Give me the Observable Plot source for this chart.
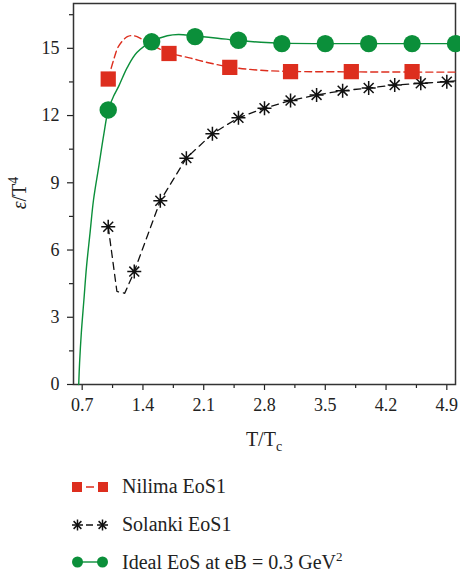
<!DOCTYPE html>
<html><head><meta charset="utf-8">
<script src="https://cdn.jsdelivr.net/npm/d3@7"></script>
<script src="https://cdn.jsdelivr.net/npm/@observablehq/plot@0.6"></script>
<style>
body{margin:0;background:#fff;font-family:"Liberation Serif",serif;color:#222;}
#legend{margin-left:71px;padding-top:13px;}
.row{display:flex;align-items:center;height:37.8px;font-size:20px;}
.row svg{margin-right:13px;}
</style></head><body><div id="chart"></div><div id="legend"></div>
<script>
// ---- data ----
const xMajor = [0.7, 1.4, 2.1, 2.8, 3.5, 4.2, 4.9];
const xMinor = [1.05, 1.75, 2.45, 3.15, 3.85, 4.55];
const yMajor = [0, 3, 6, 9, 12, 15];
const yMinor = [1.5, 4.5, 7.5, 10.5, 13.5, 16.5];

// Ideal EoS at eB = 0.3 GeV^2 (markers)
const idealT = [1.0, 1.5, 2.0, 2.5, 3.0, 3.5, 4.0, 4.5, 5.0];
const idealE = [12.25, 15.29, 15.52, 15.36, 15.21, 15.21, 15.21, 15.21, 15.21];
// Ideal EoS curve
const idealCurveT = [0.66, 0.67, 0.69, 0.72, 0.75, 0.79, 0.83, 0.89, 0.95, 1.0, 1.06, 1.12, 1.22, 1.33, 1.5, 1.68, 1.81, 2.0, 2.26, 2.5, 2.76, 3.0, 3.5, 4.0, 5.0];
const idealCurveE = [0, 0.96, 2.3, 3.78, 5.26, 6.74, 8.22, 9.7, 11.18, 12.25, 12.85, 13.3, 14.15, 14.81, 15.3, 15.56, 15.62, 15.55, 15.45, 15.35, 15.27, 15.23, 15.21, 15.21, 15.21];

// Nilima EoS1 (markers)
const nilimaT = [1.0, 1.7, 2.4, 3.1, 3.8, 4.5];
const nilimaE = [13.63, 14.77, 14.15, 13.96, 13.96, 13.96];
// Nilima EoS1 curve
const nilimaCurveT = [1.0, 1.065, 1.12, 1.22, 1.3, 1.4, 1.55, 1.7, 1.95, 2.14, 2.4, 2.72, 3.1, 3.8, 4.5, 5.0];
const nilimaCurveE = [13.63, 14.52, 15.1, 15.52, 15.56, 15.38, 15.05, 14.8, 14.56, 14.37, 14.17, 14.03, 13.97, 13.95, 13.94, 13.94];

// Solanki EoS1 (markers)
const solankiT = [1.0, 1.3, 1.6, 1.9, 2.2, 2.5, 2.8, 3.1, 3.4, 3.7, 4.0, 4.3, 4.6, 4.9];
const solankiE = [7.04, 5.04, 8.2, 10.1, 11.19, 11.9, 12.33, 12.67, 12.92, 13.11, 13.23, 13.36, 13.44, 13.51];
// Solanki EoS1 curve
const solankiCurveT = [1.0, 1.1, 1.19, 1.3, 1.6, 1.9, 2.2, 2.5, 2.8, 3.1, 3.4, 3.7, 4.0, 4.3, 4.6, 4.9, 5.0];
const solankiCurveE = [7.04, 4.15, 4.07, 5.04, 8.2, 10.1, 11.19, 11.9, 12.33, 12.67, 12.92, 13.11, 13.23, 13.36, 13.44, 13.51, 13.55];

const RED = "#dd2e1e", GREEN = "#0b8f3a", BLACK = "#111";
const FONT = "'Liberation Serif', serif";

const zip = (xs, ys) => xs.map((x, i) => ({x, y: ys[i]}));

const asterisk8 = {
  draw(ctx, size) {
    const r = Math.sqrt(size / Math.PI);
    for (let i = 0; i < 4; i++) {
      const a = i * Math.PI / 4;
      const dx = r * Math.cos(a), dy = r * Math.sin(a);
      ctx.moveTo(-dx, -dy); ctx.lineTo(dx, dy);
    }
  }
};

const chart = Plot.plot({
  width: 460, height: 455,
  marginLeft: 73, marginRight: 5, marginTop: 3, marginBottom: 71,
  style: {fontFamily: FONT, fontSize: "18px", color: "#222", background: "#fff", overflow: "visible"},
  x: {domain: [0.6, 5.0]},
  y: {domain: [0, 17]},
  marks: [
    Plot.axisX(xMinor, {tickSize: 4, tickFormat: () => "", label: null, strokeWidth: 1.2}),
    Plot.axisX(xMajor, {tickSize: 6, tickPadding: 8, label: null, strokeWidth: 1.2, tickFormat: d => d.toFixed(1)}),
    Plot.axisY(yMinor, {tickSize: 4, tickFormat: () => "", label: null, strokeWidth: 1.2}),
    Plot.axisY(yMajor, {tickSize: 6, tickPadding: 8, label: null, strokeWidth: 1.2}),
    Plot.frame({stroke: "#333", strokeWidth: 1.5}),
    Plot.line(zip(solankiCurveT, solankiCurveE), {x: "x", y: "y", stroke: BLACK, strokeWidth: 1.3, strokeDasharray: "7,5"}),
    Plot.line(zip(nilimaCurveT, nilimaCurveE), {x: "x", y: "y", stroke: RED, strokeWidth: 1.4, strokeDasharray: "7,4", curve: "catmull-rom"}),
    Plot.line(zip(idealCurveT, idealCurveE), {x: "x", y: "y", stroke: GREEN, strokeWidth: 1.4, curve: "catmull-rom"}),
    Plot.dot(zip(solankiT, solankiE), {x: "x", y: "y", symbol: asterisk8, r: 7, fill: "none", stroke: BLACK, strokeWidth: 1.5}),
    Plot.dot(zip(nilimaT, nilimaE), {x: "x", y: "y", symbol: "square", r: 8.6, fill: RED, stroke: "none"}),
    Plot.dot(zip(idealT, idealE), {x: "x", y: "y", symbol: "circle", r: 8.7, fill: GREEN, stroke: "none"})
  ]
});
document.getElementById("chart").appendChild(chart);

// axis labels with sub/superscripts
const svg = d3.select(chart);
const xl = svg.append("text").attr("x", 264).attr("y", 446).attr("text-anchor", "middle")
  .attr("font-size", 20).attr("font-family", FONT).attr("fill", "#222");
xl.append("tspan").text("T/T");
xl.append("tspan").attr("font-size", 14).attr("dy", 5).text("c");

const yl = svg.append("text").attr("transform", "translate(26,193) rotate(-90)").attr("text-anchor", "middle")
  .attr("font-size", 20).attr("font-family", FONT).attr("fill", "#222");
yl.append("tspan").attr("font-style", "italic").text("ε");
yl.append("tspan").text("/T");
yl.append("tspan").attr("font-size", 14).attr("dy", -8).text("4");

// legend
const legendItems = [
  {label: "Nilima EoS1", kind: "square"},
  {label: "Solanki EoS1", kind: "star"},
  {label: "Ideal EoS at eB = 0.3 GeV", sup: "2", kind: "circle"}
];
const leg = d3.select("#legend");
legendItems.forEach(it => {
  const row = leg.append("div").attr("class", "row");
  const s = row.append("svg").attr("width", 38).attr("height", 20);
  if (it.kind === "square") {
    s.append("line").attr("x1", 11).attr("x2", 27).attr("y1", 10).attr("y2", 10).attr("stroke", RED).attr("stroke-width", 1.4).attr("stroke-dasharray", "0,4,8,4");
    s.append("rect").attr("x", 1).attr("y", 5).attr("width", 10).attr("height", 10).attr("fill", RED);
    s.append("rect").attr("x", 27).attr("y", 5).attr("width", 10).attr("height", 10).attr("fill", RED);
  } else if (it.kind === "star") {
    s.append("line").attr("x1", 12).attr("x2", 26).attr("y1", 10).attr("y2", 10).attr("stroke", BLACK).attr("stroke-width", 1.3).attr("stroke-dasharray", "0,3,7,4");
    [6.5, 31.5].forEach(cx => {
      const g = s.append("g").attr("transform", `translate(${cx},10)`);
      for (let i = 0; i < 4; i++) {
        const a = i * Math.PI / 4, r = 5.5;
        g.append("line").attr("x1", -r * Math.cos(a)).attr("y1", -r * Math.sin(a)).attr("x2", r * Math.cos(a)).attr("y2", r * Math.sin(a)).attr("stroke", BLACK).attr("stroke-width", 1.5);
      }
    });
  } else {
    s.append("line").attr("x1", 6).attr("x2", 32).attr("y1", 10).attr("y2", 10).attr("stroke", GREEN).attr("stroke-width", 1.4);
    s.append("circle").attr("cx", 6.5).attr("cy", 10).attr("r", 5.5).attr("fill", GREEN);
    s.append("circle").attr("cx", 31.5).attr("cy", 10).attr("r", 5.5).attr("fill", GREEN);
  }
  const t = row.append("span").text(it.label);
  if (it.sup) t.append("sup").style("font-size", "13px").style("line-height", "0").text(it.sup);
});
</script></body></html>
